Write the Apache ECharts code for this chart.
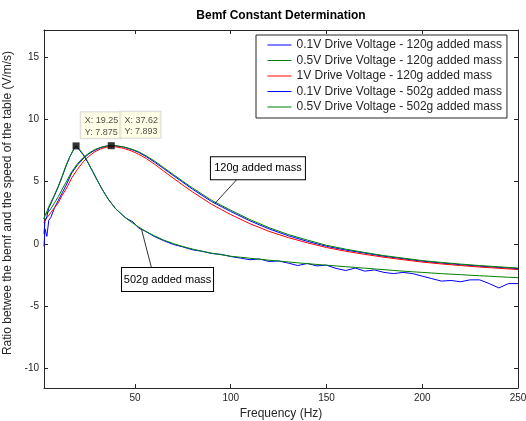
<!DOCTYPE html>
<html>
<head>
<meta charset="utf-8">
<script src="https://cdn.jsdelivr.net/npm/echarts@6/dist/echarts.min.js"></script>
<style>html,body{margin:0;padding:0;background:#fff;}#c{width:526px;height:421px;}</style>
</head>
<body>
<div id="c"></div>
<script>
// ---- data ----
var freq120 = [2.5,3,4,5,6,8,10,12,14,17,20,23,26,29,32,35,37.62,40,44,48,52,56,60,65,70,75,80,90,100,110,120,130,140,150,160,170,180,190,200,210,220,230,240,250];
var v01_120 = [-0.2,1.2,0.6,1.9,2.1,2.9,3.5,4.1,4.7,5.7,6.35,6.85,7.25,7.52,7.73,7.85,7.893,7.88,7.78,7.6,7.35,7.0,6.6,6.05,5.5,4.95,4.4,3.4,2.6,1.85,1.2,0.65,0.2,-0.2,-0.5,-0.75,-1.0,-1.2,-1.4,-1.55,-1.68,-1.8,-1.9,-2.0];
var v05_120 = [2.0,2.3,2.4,2.6,2.8,3.3,3.8,4.4,4.95,5.8,6.45,6.95,7.3,7.58,7.76,7.87,7.9,7.89,7.8,7.63,7.4,7.06,6.68,6.13,5.58,5.03,4.5,3.5,2.7,1.95,1.3,0.75,0.3,-0.12,-0.43,-0.7,-0.95,-1.15,-1.35,-1.5,-1.63,-1.75,-1.85,-1.95];
var v1_120  = [1.7,1.9,2.1,2.3,2.5,2.9,3.3,3.9,4.4,5.3,6.0,6.6,7.05,7.4,7.63,7.77,7.82,7.8,7.68,7.48,7.2,6.85,6.43,5.85,5.28,4.72,4.18,3.18,2.35,1.62,1.0,0.5,0.08,-0.3,-0.6,-0.85,-1.08,-1.28,-1.47,-1.62,-1.75,-1.87,-1.97,-2.07];

var freq502 = [2.5,3,4,5,6,8,10,12,14,16,18,19.25,21,23,25,28,30,33,36,40,45,49,50,52,55,60,65,70,75,80,85,90,95,100,105,110,115,120,125,130,135,140,145,150,155,160,165,170,175,180,185,190,195,200,205,210,215,220,225,230,235,240,245,250];
var v01_502 = [0.8,1.8,2.2,2.9,3.2,3.9,4.6,5.4,6.25,7.0,7.6,7.875,7.55,7.15,6.65,5.8,5.2,4.35,3.6,2.8,2.1,1.75,1.6,1.25,1.05,0.6,0.25,-0.05,-0.25,-0.48,-0.6,-0.78,-0.85,-1.02,-1.15,-1.28,-1.22,-1.42,-1.38,-1.55,-1.75,-1.58,-1.78,-1.72,-1.98,-2.15,-1.95,-2.2,-2.1,-2.3,-2.4,-2.3,-2.4,-2.6,-2.8,-3.0,-2.95,-3.05,-2.9,-2.9,-3.2,-3.55,-3.2,-3.2];
var v05_502 = [2.0,2.3,2.6,3.0,3.3,3.95,4.65,5.45,6.3,7.0,7.6,7.875,7.6,7.2,6.7,5.8,5.2,4.35,3.6,2.8,2.1,1.65,1.55,1.35,1.05,0.65,0.3,0.02,-0.22,-0.42,-0.6,-0.75,-0.88,-1.0,-1.08,-1.16,-1.24,-1.32,-1.39,-1.46,-1.53,-1.6,-1.66,-1.72,-1.78,-1.84,-1.9,-1.96,-2.02,-2.08,-2.14,-2.2,-2.25,-2.3,-2.35,-2.4,-2.44,-2.48,-2.53,-2.57,-2.61,-2.65,-2.69,-2.73];

var seriesNames = [
  '0.1V Drive Voltage - 120g added mass',
  '0.5V Drive Voltage - 120g added mass',
  '1V Drive Voltage - 120g added mass',
  '0.1V Drive Voltage - 502g added mass',
  '0.5V Drive Voltage - 502g added mass'
];
var seriesColors = ['#0000ff','#008000','#ff0000','#0000ff','#008000'];

var tipPoints = [[19.25,7.875],[37.62,7.893]];
var xTicks = [50,100,150,200,250];
var yTicks = [-10,-5,0,5,10,15];

var annoText = ['120g added mass','502g added mass'];
var annoBox = [[114.2,6.08],[67.0,-2.87]];
var annoLine = [[[103.3,5.19],[91.8,3.26]],[[53.5,1.11],[58.7,-1.97]]];

// ---- chart ----
function zip(xs, ys){ return xs.map(function(x,i){ return [x, ys[i]]; }); }
var seriesData = [zip(freq120,v01_120), zip(freq120,v05_120), zip(freq120,v1_120), zip(freq502,v01_502), zip(freq502,v05_502)];

var FONT = 'Liberation Sans';
var AX = '#262626';
var chart = echarts.init(document.getElementById('c'), null, {renderer:'canvas'});

var series = seriesData.map(function(d,i){
  return {
    name: seriesNames[i], type:'line', data:d, symbol:'none', showSymbol:false,
    color: seriesColors[i], lineStyle:{width:1, color:seriesColors[i]},
    itemStyle:{color:seriesColors[i]}, animation:false, silent:true
  };
});

var tipOffsets = [[8.2,-30.2],[12.7,-30.5]];
var annoSize = [[82,14],[79,15]];
series.push({
  name:'tips', type:'scatter', symbol:'rect', symbolSize:7,
  itemStyle:{color:'#000'}, z:5, animation:false,
  data: tipPoints.map(function(p,i){
    return {value:p, label:{position:tipOffsets[i]}};
  }),
  label:{
    show:true, fontFamily:FONT, fontSize:9, lineHeight:11.5, color:'#222',
    backgroundColor:'#ffffe1', borderColor:'#cfcfcf', borderWidth:1,
    padding:[3,4,0,4], width:32, align:'left', verticalAlign:'top',
    formatter:function(p){ return 'X: ' + p.value[0] + '\nY: ' + p.value[1]; }
  },
  markLine:{
    silent:true, symbol:['none','none'], animation:false,
    lineStyle:{color:'#000', width:0.8, type:'solid'},
    label:{show:false},
    data: annoLine.map(function(l){ return [{coord:l[0]},{coord:l[1]}]; })
  },
  markPoint:{
    silent:true, animation:false,
    data: annoText.map(function(t,i){
      return {
        coord: annoBox[i], symbol:'rect', symbolSize:1,
        itemStyle:{color:'rgba(0,0,0,0)'},
        label:{show:true, position:'inside', formatter:t, color:'#000', fontFamily:FONT, fontSize:11,
          backgroundColor:'#fff', borderColor:'#000', borderWidth:1, padding:[4,6,4,6],
          width:annoSize[i][0], height:annoSize[i][1], lineHeight:annoSize[i][1], align:'center', verticalAlign:'middle'}
      };
    })
  }
});

var axisCommon = {
  axisLine:{show:true, onZero:false, lineStyle:{color:AX, width:1}},
  splitLine:{show:false}
};

var option = {
  animation:false,
  backgroundColor:'#fff',
  textStyle:{fontFamily:FONT},
  grid:{left:44, right:8, top:30, bottom:33, containLabel:false, outerBoundsMode:'none'},
  legend:{
    data: seriesNames.map(function(n,i){
      return {name:n, lineStyle:{color:seriesColors[i], width:1}};
    }),
    orient:'vertical', left:256, top:35,
    padding:[3,5,4,11], itemGap:1.5, itemWidth:24, itemHeight:14,
    itemStyle:{opacity:0, borderWidth:0},
    borderColor:AX, borderWidth:1, backgroundColor:'#fff',
    textStyle:{fontFamily:FONT, fontSize:12, color:AX, lineHeight:14}, selectedMode:false
  },
  xAxis:[
    Object.assign({}, axisCommon, {
      type:'value', min:2.5, max:250, position:'bottom',
      axisTick:{show:true, inside:true, length:4, customValues:xTicks, lineStyle:{color:AX}},
      axisLabel:{show:true, customValues:xTicks, fontSize:10, color:AX, margin:5, fontFamily:FONT},
      name:'Frequency (Hz)', nameLocation:'middle', nameGap:17,
      nameTextStyle:{fontSize:12, color:AX, fontFamily:FONT}
    }),
    Object.assign({}, axisCommon, {
      type:'value', min:2.5, max:250, position:'top',
      axisTick:{show:true, inside:true, length:4, customValues:xTicks, lineStyle:{color:AX}},
      axisLabel:{show:false}
    })
  ],
  yAxis:[
    Object.assign({}, axisCommon, {
      type:'value', min:-11.6, max:17.2, position:'left',
      axisTick:{show:true, inside:true, length:4, customValues:yTicks, lineStyle:{color:AX}},
      axisLabel:{show:true, customValues:yTicks, fontSize:10, color:AX, margin:5, fontFamily:FONT},
      name:'Ratio betwee the bemf and the speed of the table (V/m/s)', nameLocation:'middle', nameGap:22, nameRotate:90,
      nameTextStyle:{fontSize:12, color:AX, fontFamily:FONT, padding:[0,0,0,12]}
    }),
    Object.assign({}, axisCommon, {
      type:'value', min:-11.6, max:17.2, position:'right',
      axisTick:{show:true, inside:true, length:4, customValues:yTicks, lineStyle:{color:AX}},
      axisLabel:{show:false}
    })
  ],
  graphic:[{
    type:'text', x:281, y:16,
    style:{text:'Bemf Constant Determination', x:0, y:0, align:'center', verticalAlign:'middle',
      fill:'#000', font:'bold 12px "Liberation Sans"'}
  }],
  series: series
};
chart.setOption(option);
</script>
</body>
</html>
